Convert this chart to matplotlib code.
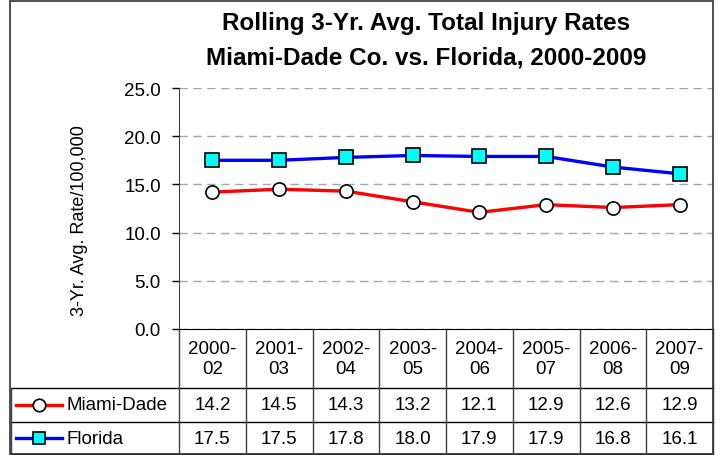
#!/usr/bin/env python

import numpy as np
import matplotlib
matplotlib.use('Agg')
import matplotlib.pyplot as plt
import matplotlib.transforms as mtransforms
from matplotlib.patches import Rectangle

plt.rcParams['font.family'] = ['Liberation Sans', 'DejaVu Sans']

# Data
periods = ['2000-\n02', '2001-\n03', '2002-\n04', '2003-\n05',
           '2004-\n06', '2005-\n07', '2006-\n08', '2007-\n09']
miami_dade = [14.2, 14.5, 14.3, 13.2, 12.1, 12.9, 12.6, 12.9]
florida = [17.5, 17.5, 17.8, 18.0, 17.9, 17.9, 16.8, 16.1]
yticks = [0.0, 5.0, 10.0, 15.0, 20.0, 25.0]

W, H = 721, 456
fig = plt.figure(figsize=(W / 100.0, H / 100.0), dpi=100, facecolor='white')

# plot area in pixels: x 179..713, y 89..330 (from top)
ax = fig.add_axes([179.0 / W, 1 - 330.0 / H, 534.0 / W, 241.0 / H])
x = np.arange(len(periods))

ax.plot(x, miami_dade, '-', color='#ff0000', lw=2.4, marker='o', ms=9.5,
        mfc='white', mec='black', mew=1.2, zorder=3, clip_on=False)
ax.plot(x, florida, '-', color='#0000ff', lw=2.4, marker='s', ms=9.5,
        mfc='#00ffff', mec='black', mew=1.2, zorder=3, clip_on=False)

ax.set_xlim(-0.5, len(periods) - 0.5)
ax.set_ylim(0, 25)
ax.set_yticks(yticks)
ax.set_yticklabels(['%.1f' % v for v in yticks], fontsize=13.5)
ax.set_xticks([])
ax.tick_params(axis='y', direction='out', length=5, width=1, pad=8)
ax.yaxis.grid(True, color='#a6a6a6', linestyle=(0, (6, 4)), lw=1)
ax.set_axisbelow(True)
for side in ['top', 'right']:
    ax.spines[side].set_visible(False)
ax.spines['left'].set_color('#404040')
ax.spines['bottom'].set_color('black')

ax.set_ylabel('3-Yr. Avg. Rate/100,000', fontsize=13)
ax.yaxis.set_label_coords(-0.17, 0.456)

title_lines = ['Rolling 3-Yr. Avg. Total Injury Rates',
               'Miami-Dade Co. vs. Florida, 2000-2009']
for line, ypix in zip(title_lines, [24, 58]):
    fig.text(426.0 / W, 1 - ypix / float(H), line, ha='center', va='center',
             fontsize=17.5, fontweight='bold')

# Data table below the plot: x in data units, y in axes units
tr = mtransforms.blended_transform_factory(ax.transData, ax.transAxes)
px = 534.0 / len(periods)
def xd(pix):
    return -0.5 + (pix - 179.0) / px
def ya(pix):
    return (330.0 - pix) / 241.0

y_head, y_r1, y_r2 = ya(389), ya(423), ya(455)
x_left = xd(10.5)
x_right = len(periods) - 0.5

for yy in [y_head, y_r1, y_r2]:
    ax.plot([x_left, x_right], [yy, yy], color='black', lw=1,
            transform=tr, clip_on=False)
for k in range(len(periods) + 1):
    ax.plot([k - 0.5, k - 0.5], [0, y_r2], color='#404040', lw=1,
            transform=tr, clip_on=False)
ax.plot([x_left, x_left], [y_head, y_r2], color='#404040', lw=1,
        transform=tr, clip_on=False)

for i, p in enumerate(periods):
    ax.text(i, y_head / 2, p, transform=tr, ha='center', va='center',
            fontsize=13.5, linespacing=1.25)
    ax.text(i, (y_head + y_r1) / 2, '%.1f' % miami_dade[i], transform=tr,
            ha='center', va='center', fontsize=13.5)
    ax.text(i, (y_r1 + y_r2) / 2, '%.1f' % florida[i], transform=tr,
            ha='center', va='center', fontsize=13.5)

# row labels with legend keys
rows = [('Miami-Dade', '#ff0000', 'o', 'white', (y_head + y_r1) / 2),
        ('Florida', '#0000ff', 's', '#00ffff', (y_r1 + y_r2) / 2)]
for name, col, mk, fc, yy in rows:
    ax.plot([xd(16), xd(62)], [yy, yy], color=col, lw=2.4,
            transform=tr, clip_on=False)
    ax.plot([xd(39)], [yy], marker=mk, ms=9, mfc=fc, mec='black', mew=1.2,
            transform=tr, clip_on=False)
    ax.text(xd(66), yy, name, transform=tr, ha='left', va='center',
            fontsize=13.5)

# outer chart border
fig.patches.append(Rectangle((9.5 / W, 1 - 455.0 / H), 703.0 / W, 453.5 / H,
                             transform=fig.transFigure, fill=False,
                             edgecolor='#333333', lw=1.2))

fig.savefig('out.png', dpi=100, facecolor='white')
